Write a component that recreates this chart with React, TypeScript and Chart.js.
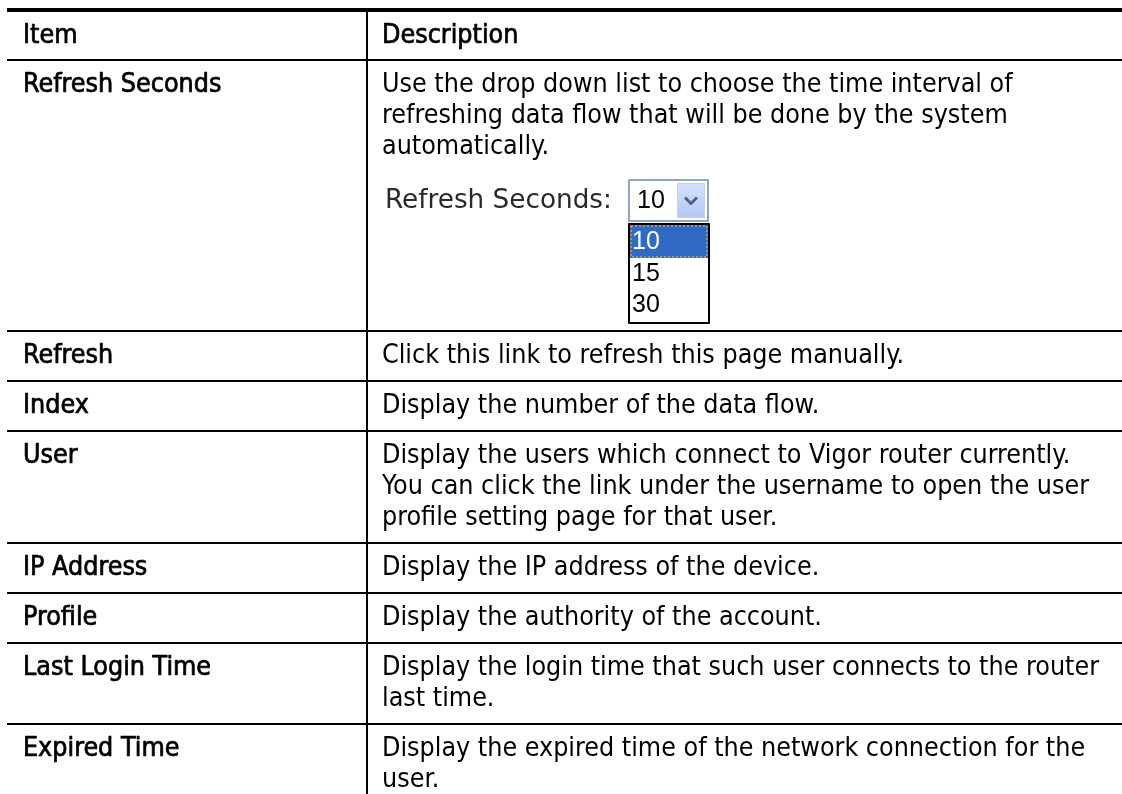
import React, { useEffect, useRef } from "react";
import { Chart, registerables } from "chart.js";

Chart.register(...registerables);

const headerItem = "Item";
const headerDescription = "Description";

const items: string[] = [
  "Refresh Seconds",
  "Refresh",
  "Index",
  "User",
  "IP Address",
  "Profile",
  "Last Login Time",
  "Expired Time",
];

const descriptions: string[][] = [
  [
    "Use the drop down list to choose the time interval of",
    "refreshing data flow that will be done by the system",
    "automatically.",
  ],
  ["Click this link to refresh this page manually."],
  ["Display the number of the data flow."],
  [
    "Display the users which connect to Vigor router currently.",
    "You can click the link under the username to open the user",
    "profile setting page for that user.",
  ],
  ["Display the IP address of the device."],
  ["Display the authority of the account."],
  [
    "Display the login time that such user connects to the router",
    "last time.",
  ],
  [
    "Display the expired time of the network connection for the",
    "user.",
  ],
];

const widgetLabel = "Refresh Seconds:";
const refreshOptions: string[] = ["10", "15", "30"];
const selectedRefresh = "10";
const widgetRow = 0;

const W = 1122;
const H = 794;

function fitSize(ctx: CanvasRenderingContext2D, text: string, family: string, weight: string, target: number) {
  ctx.font = `${weight} 20px ${family}`;
  const w = ctx.measureText(text).width;
  return (20 * target) / w;
}

function semiBold(ctx: CanvasRenderingContext2D, text: string, x: number, y: number) {
  ctx.fillText(text, x, y);
  ctx.strokeStyle = ctx.fillStyle as string;
  ctx.lineWidth = 0.7;
  ctx.lineJoin = "round";
  ctx.strokeText(text, x, y);
}

const tablePlugin = {
  id: "tablePlugin",
  afterDraw(chart: any) {
    const ctx: CanvasRenderingContext2D = chart.ctx;
    const xs = chart.scales.x;
    const ys = chart.scales.y;
    const X = (v: number) => xs.getPixelForValue(v);
    const Y = (v: number) => ys.getPixelForValue(v);

    const bodyFamily = "'DejaVu Sans Condensed', 'DejaVu Sans', sans-serif";
    const bodySize = fitSize(ctx, descriptions[0][0], bodyFamily, "normal", 631);
    const bodyFont = `normal ${bodySize}px ${bodyFamily}`;

    const left = 7;
    const divider = 367;
    const colPadL = 16;
    const colPadR = 15;
    const lineH = 31;
    const firstOff = 25;
    const rowPad = 50;

    ctx.save();
    ctx.fillStyle = "#ffffff";
    ctx.fillRect(X(0), Y(0), X(W) - X(0), Y(H) - Y(0));

    const hline = (y: number, t: number) => {
      ctx.fillStyle = "#000";
      ctx.fillRect(X(left), Y(y - t / 2), X(W) - X(left), t);
    };

    // header
    const topY = 10;
    const headerBottom = 60;
    hline(topY, 4);
    ctx.textBaseline = "middle";
    ctx.fillStyle = "#000";
    ctx.font = bodyFont;
    semiBold(ctx, headerItem, X(left + colPadL), Y(36));
    semiBold(ctx, headerDescription, X(divider + colPadR), Y(36));
    hline(headerBottom, 2);

    // rows
    let rowTop = headerBottom;
    const rowLines: number[] = [];
    items.forEach((item, i) => {
      const lines = descriptions[i];
      ctx.fillStyle = "#000";
      ctx.font = bodyFont;
      semiBold(ctx, item, X(left + colPadL), Y(rowTop + firstOff));
      lines.forEach((ln, j) => {
        ctx.fillText(ln, X(divider + colPadR), Y(rowTop + firstOff + j * lineH));
      });
      let rowBottom = rowTop + rowPad + lineH * (lines.length - 1);
      if (i === widgetRow) {
        const wTop = rowTop + firstOff + lineH * (lines.length - 1) + 32;
        rowBottom = drawWidget(ctx, X, Y, divider + 18, wTop) + 7;
      }
      rowLines.push(rowBottom);
      rowTop = rowBottom;
    });
    rowLines.forEach((y) => hline(y, 2));

    // vertical divider
    ctx.fillStyle = "#000";
    ctx.fillRect(X(divider - 1), Y(topY), 2, Y(H) - Y(topY));
    ctx.restore();
  },
};

function drawWidget(ctx: CanvasRenderingContext2D, X: (v: number) => number, Y: (v: number) => number, x0: number, top: number) {
  const labelFamily = "'DejaVu Sans', sans-serif";
  const labelSize = fitSize(ctx, widgetLabel, labelFamily, "normal", 227);
  const digitFont = "normal 25px 'Liberation Sans', sans-serif";
  const selH = 43;
  const selX = x0 + 243;
  const selW = 81;
  const midY = top + selH / 2;

  ctx.textBaseline = "middle";
  ctx.fillStyle = "#2a2a2a";
  ctx.font = `normal ${labelSize}px ${labelFamily}`;
  ctx.fillText(widgetLabel, X(x0), Y(midY + 1));

  // select box
  ctx.fillStyle = "#ffffff";
  ctx.fillRect(X(selX), Y(top), selW, selH);
  ctx.strokeStyle = "#8ea6c6";
  ctx.lineWidth = 2;
  ctx.strokeRect(X(selX) + 1, Y(top) + 1, selW - 2, selH - 2);
  ctx.fillStyle = "#000";
  ctx.font = digitFont;
  ctx.fillText(selectedRefresh, X(selX + 9), Y(midY + 1));

  // button
  const bx = selX + 49;
  const bw = 28;
  const by = top + 4;
  const bh = selH - 8;
  const grad = ctx.createLinearGradient(0, Y(by), 0, Y(by + bh));
  grad.addColorStop(0, "#d6e2fb");
  grad.addColorStop(1, "#b3c7f4");
  ctx.fillStyle = grad;
  ctx.fillRect(X(bx), Y(by), bw, bh);
  ctx.strokeStyle = "#c3d2f3";
  ctx.lineWidth = 1;
  ctx.strokeRect(X(bx) + 0.5, Y(by) + 0.5, bw - 1, bh - 1);
  ctx.strokeStyle = "#4d6185";
  ctx.lineWidth = 3;
  ctx.beginPath();
  ctx.moveTo(X(bx + 8), Y(midY - 3));
  ctx.lineTo(X(bx + 14), Y(midY + 3));
  ctx.lineTo(X(bx + 20), Y(midY - 3));
  ctx.stroke();

  // list
  const lTop = top + selH + 1;
  const optH = 31;
  const lH = optH * refreshOptions.length + 8;
  ctx.fillStyle = "#fff";
  ctx.fillRect(X(selX), Y(lTop), selW + 1, lH);
  ctx.strokeStyle = "#000";
  ctx.lineWidth = 2;
  ctx.strokeRect(X(selX) + 1, Y(lTop) + 1, selW - 1, lH - 2);
  refreshOptions.forEach((opt, i) => {
    const oTop = lTop + 2 + i * optH;
    const oMid = oTop + optH / 2 + 1;
    if (opt === selectedRefresh) {
      ctx.fillStyle = "#316ac5";
      ctx.fillRect(X(selX + 2), Y(oTop), selW - 3, optH + 2);
      ctx.strokeStyle = "#c9a24a";
      ctx.lineWidth = 1.5;
      ctx.setLineDash([2, 2]);
      ctx.strokeRect(X(selX + 3), Y(oTop + 1), selW - 5, optH);
      ctx.setLineDash([]);
      ctx.fillStyle = "#fff";
    } else {
      ctx.fillStyle = "#000";
    }
    ctx.font = digitFont;
    ctx.fillText(opt, X(selX + 4), Y(oMid + (i === 0 ? 1 : 2)));
  });
  return lTop + lH;
}

export default function App() {
  const ref = useRef<HTMLCanvasElement | null>(null);
  useEffect(() => {
    document.body.style.margin = "0";
    const canvas = ref.current;
    if (!canvas) return;
    const chart = new Chart(canvas, {
      type: "scatter",
      data: { datasets: [] },
      options: {
        animation: false,
        responsive: false,
        maintainAspectRatio: false,
        events: [],
        layout: { padding: 0 },
        plugins: { legend: { display: false }, tooltip: { enabled: false } },
        scales: {
          x: { type: "linear", min: 0, max: W, display: false },
          y: { type: "linear", min: 0, max: H, reverse: true, display: false },
        },
      },
      plugins: [tablePlugin],
    });
    return () => chart.destroy();
  }, []);
  return (
    <div style={{ width: W, height: H, background: "#fff" }}>
      <canvas ref={ref} width={W} height={H} style={{ display: "block", width: W, height: H }} />
    </div>
  );
}
